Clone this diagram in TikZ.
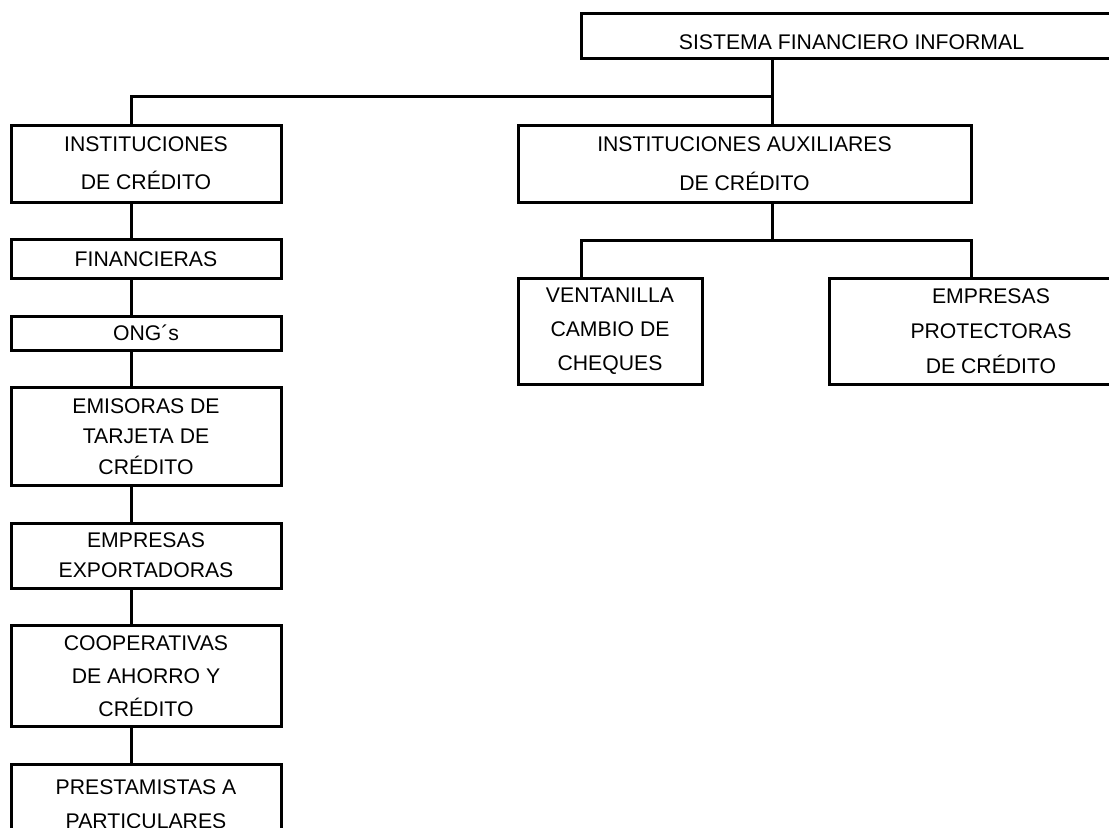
\documentclass[tikz,border=0pt]{standalone}
\usepackage{fontspec}
\setmainfont{Liberation Sans}
\usetikzlibrary{positioning}

\newcommand{\letra}[1]{\fontsize{10.6pt}{#1}\selectfont}

\begin{document}
\begin{tikzpicture}[line width=1.5pt, every node/.style={font=\letra{16.5pt}}]
	\tikzset{caja/.style={rectangle, draw, align=center, inner sep=0pt, outer sep=0pt}}
	\useasboundingbox (0,0) rectangle (554.5pt,-413.5pt);

	\node[caja, minimum width=270.5pt, minimum height=22.5pt, text height=14.1pt, text depth=0pt] (sistema) at (425.75pt,-17.9pt) {SISTEMA FINANCIERO INFORMAL};
	\node[caja, minimum width=135pt, minimum height=38.5pt, font=\letra{19pt}] (inst) at (73pt,-81.75pt) {INSTITUCIONES\\DE CRÉDITO};
	\node[caja, minimum width=226.5pt, minimum height=38.5pt, font=\letra{19.5pt}, right=118.5pt of inst] (aux) {INSTITUCIONES AUXILIARES\\DE CRÉDITO};

	\node[caja, minimum width=135pt, minimum height=19.5pt, below=18.75pt of inst] (fin) {FINANCIERAS};
	\node[caja, minimum width=135pt, minimum height=17pt, below=18.75pt of fin] (ong) {ONG´s};
	\node[caja, minimum width=135pt, minimum height=49pt, font=\letra{15.25pt}, below=18.75pt of ong] (emi) {EMISORAS DE\\TARJETA DE\\CRÉDITO};
	\node[caja, minimum width=135pt, minimum height=32.5pt, font=\letra{15pt}, below=18.75pt of emi] (emp) {EMPRESAS\\EXPORTADORAS};
	\node[caja, minimum width=135pt, minimum height=50.5pt, below=18.75pt of emp] (coop) {COOPERATIVAS\\DE AHORRO Y\\CRÉDITO};
	\node[caja, minimum width=135pt, minimum height=40pt, font=\letra{17pt}, below=18.75pt of coop] (prest) {PRESTAMISTAS A\\PARTICULARES};

	\node[caja, minimum width=92pt, minimum height=53pt, font=\letra{17pt}, below=38pt of aux.south west, anchor=north west] (vent) {VENTANILLA\\CAMBIO DE\\CHEQUES};
	\node[caja, minimum width=162pt, minimum height=53pt, font=\letra{17.5pt}, right=63.5pt of vent] (ep) {EMPRESAS\\PROTECTORAS\\DE CRÉDITO};

	\coordinate (eje) at (386.35pt,-48.35pt);
	\coordinate (col) at (65.5pt,0);
	\coordinate (ramal) at (290.5pt,-120pt);

	\draw (sistema.south -| eje) -- (aux.north -| eje);
	\draw (eje) -| (col |- inst.north);
	\draw (aux.south -| eje) -- (eje |- ramal);
	\draw (ramal |- vent.north) |- (aux.east |- ramal) -- (aux.east |- ep.north);

	\draw (inst.south -| col) -- (fin.north -| col);
	\draw (fin.south -| col) -- (ong.north -| col);
	\draw (ong.south -| col) -- (emi.north -| col);
	\draw (emi.south -| col) -- (emp.north -| col);
	\draw (emp.south -| col) -- (coop.north -| col);
	\draw (coop.south -| col) -- (prest.north -| col);
\end{tikzpicture}
\end{document}
